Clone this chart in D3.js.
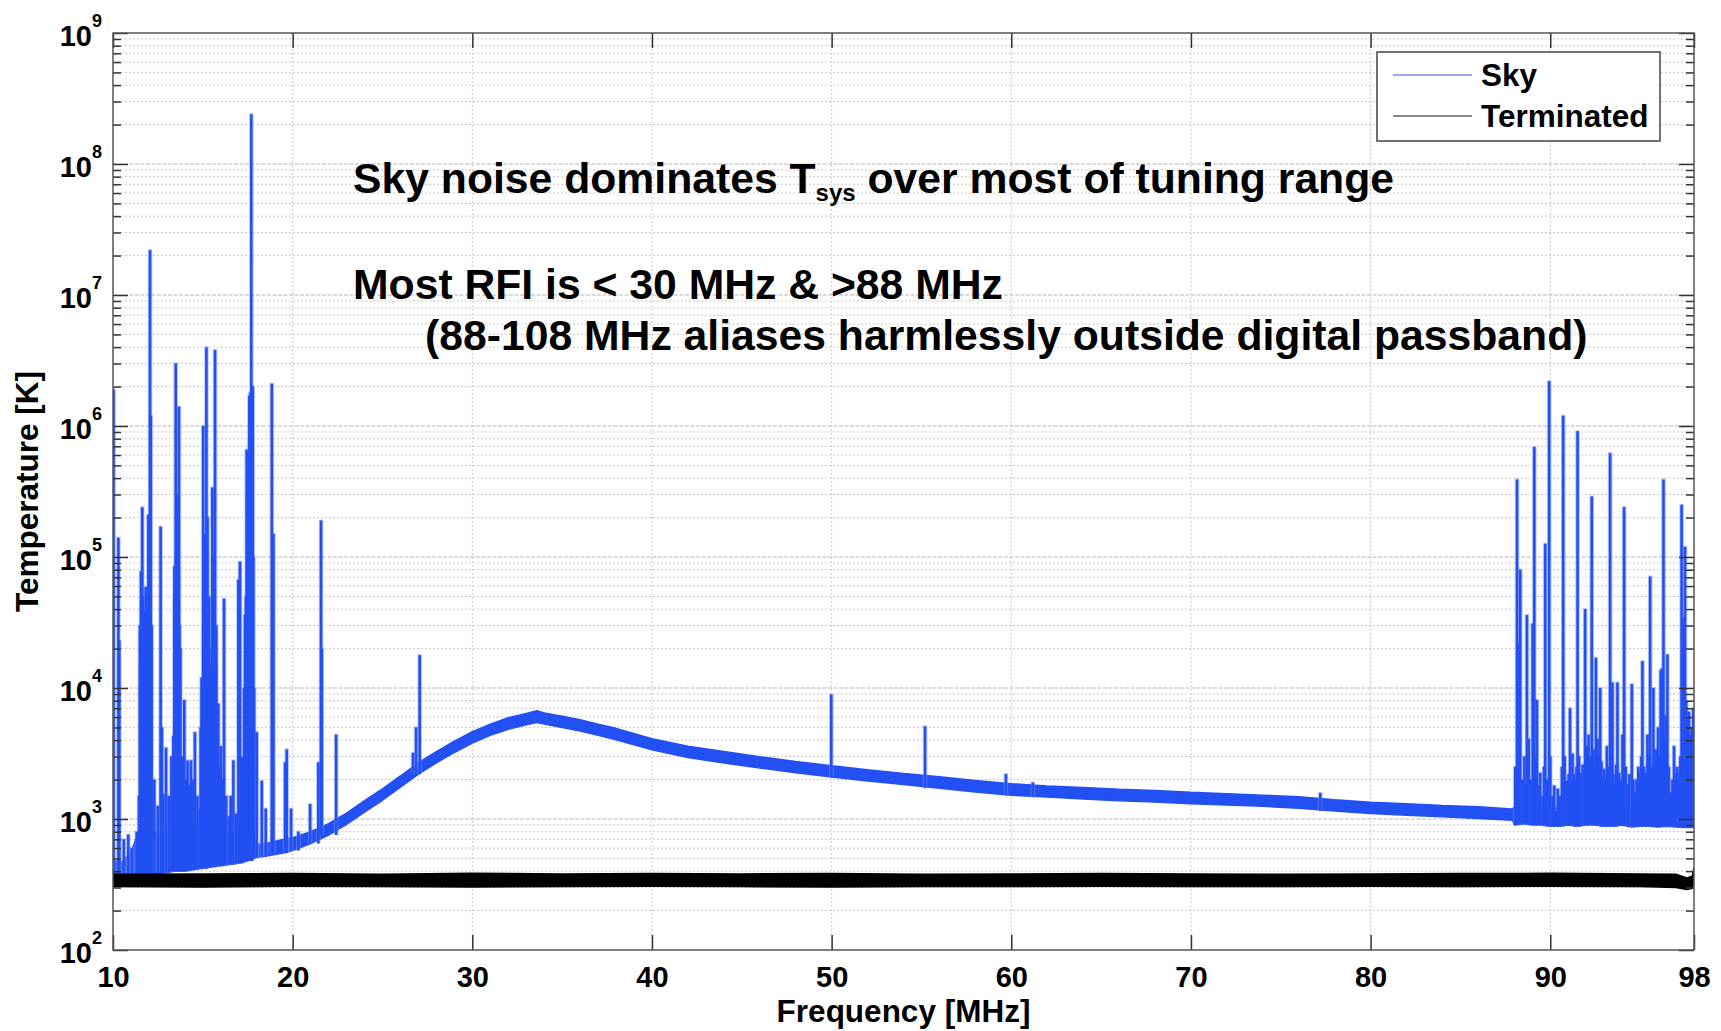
<!DOCTYPE html>
<html>
<head>
<meta charset="utf-8">
<script src="https://cdn.jsdelivr.net/npm/d3@7"></script>
<style>
  body { margin: 0; background: #fff; }
  text { font-family: "Liberation Sans", Arial, Helvetica, sans-serif; font-weight: bold; fill: #000; }
</style>
</head>
<body>
<div id="chart"></div>
<script>
// Sky vs terminated system temperature

// axis ticks
let freqTicks = [10, 20, 30, 40, 50, 60, 70, 80, 90, 98]
let tempDecades = [1e2, 1e3, 1e4, 1e5, 1e6, 1e7, 1e8, 1e9]

// sky noise floor, as a band (lower and upper edge of the noisy trace) [K]
let skyBandFreq = [10, 10.5, 11, 11.5, 12, 12.5, 13, 13.5, 14, 14.5, 15, 15.5, 16, 16.5, 17, 17.5,
  18, 18.5, 19, 19.5, 20, 21, 22, 23, 24, 25, 26, 27, 28, 29, 30, 31, 32, 33, 33.6, 34, 35, 36, 37, 38,
  40, 42, 44, 46, 48, 50, 52, 54, 56, 58, 60, 62, 64, 66, 68, 70, 72, 74, 76, 78, 80, 82, 84, 86, 87.9,
  88.0, 88.5, 89, 89.5, 90, 90.5, 91, 91.5, 92, 92.5, 93, 93.5, 94, 94.5, 95, 95.5, 96, 96.5, 97, 97.5, 98]
let skyBandLo = [320, 320, 330, 360, 380, 380, 390, 400, 400, 410, 420, 430, 440, 450, 460, 480,
  510, 520, 535, 550, 575, 650, 755, 910, 1130, 1390, 1750, 2200, 2680, 3220, 3800, 4350, 4850, 5250, 5450, 5300, 5000, 4700, 4350, 4030,
  3370, 2950, 2680, 2450, 2250, 2090, 1950, 1830, 1720, 1610, 1520, 1470, 1420, 1380, 1350, 1310, 1280, 1250, 1210, 1150, 1100, 1070, 1040, 1010, 980,
  900, 920, 900, 900, 880, 880, 900, 880, 900, 900, 880, 880, 900, 870, 880, 880, 870, 880, 870, 860, 860]
let skyBandHi = [480, 470, 560, 850, 950, 750, 800, 1000, 850, 760, 1000, 1100, 900, 760, 850, 1000,
  640, 650, 675, 700, 720, 800, 920, 1110, 1380, 1700, 2130, 2690, 3270, 3930, 4640, 5300, 5920, 6400, 6700, 6450, 6100, 5730, 5300, 4920,
  4100, 3600, 3270, 2990, 2750, 2550, 2380, 2230, 2100, 1970, 1860, 1790, 1740, 1690, 1650, 1600, 1560, 1520, 1480, 1400, 1340, 1310, 1270, 1240, 1190,
  1250, 1400, 1300, 1250, 1200, 1250, 1350, 1300, 1500, 1450, 1350, 1300, 1350, 1200, 1300, 1350, 1350, 1250, 1250, 1300, 1300]

// RFI spikes on the sky trace: [frequency MHz, peak K]
let skySpikes = [
  [10.03, 1.9e6], [10.30, 1.4e5], [10.35, 2.3e4], [10.6, 700], [10.85, 760], [11.05, 600], [11.32, 800],
  [11.45, 1500], [11.5, 3e4], [11.52, 1.5e4], [11.56, 7.8e4], [11.6, 4e4], [11.63, 2.4e5], [11.67, 5e4],
  [11.7, 3e4], [11.75, 4e4], [11.82, 5.9e4], [11.86, 3e4], [11.9, 2e4], [11.93, 5e4], [11.97, 2.1e5],
  [12.02, 6e4], [12.06, 2.2e7], [12.1, 1.2e6], [12.15, 3e4], [12.3, 2000], [12.49, 1260], [12.65, 1.7e5],
  [12.72, 5000], [12.80, 1550], [12.95, 3500], [13.1, 1500], [13.25, 3000], [13.36, 4300], [13.42, 8.5e4],
  [13.45, 5e4], [13.49, 3e6], [13.52, 1e5], [13.55, 3e5], [13.58, 6e4], [13.62, 1.2e5], [13.65, 8e4],
  [13.67, 1.4e6], [13.7, 3e4], [13.75, 2e4], [13.85, 3000], [13.97, 8100],
  [14.05, 2000], [14.15, 2800], [14.25, 1800], [14.34, 2800], [14.45, 2000], [14.56, 4600], [14.7, 1500],
  [14.84, 1200], [14.88, 5000], [14.93, 1.2e4], [14.97, 1e4], [15.02, 1e6], [15.05, 3e4], [15.08, 1.5e5],
  [15.1, 2e4], [15.13, 5e4], [15.16, 4e4], [15.2, 4e6], [15.23, 3e4], [15.26, 2e5], [15.3, 2e4],
  [15.35, 5e4], [15.38, 1.5e4], [15.42, 1e4], [15.46, 1e4], [15.5, 2e4], [15.53, 3.4e5], [15.57, 3e4],
  [15.6, 1e5], [15.64, 2e4], [15.68, 3.8e6], [15.72, 1.5e4], [15.75, 3e4], [15.86, 7600],
  [15.93, 2500], [16.01, 3600], [16.1, 2000], [16.18, 4.8e4], [16.3, 1500], [16.46, 1050], [16.55, 1500],
  [16.70, 2800], [16.85, 1100], [16.98, 6.7e4], [17.07, 9.2e4], [17.15, 3000], [17.22, 2900], [17.3, 1e4],
  [17.35, 3.6e4], [17.4, 5e4], [17.44, 6.6e5], [17.48, 3e5], [17.52, 1e5], [17.55, 5e5], [17.59, 1.7e6],
  [17.62, 8e5], [17.65, 1.8e6], [17.68, 1e6], [17.70, 2.4e8], [17.74, 8e5], [17.78, 2e6], [17.81, 1e5], [17.85, 1e4],
  [18.0, 4600], [18.28, 1950], [18.5, 1200], [18.84, 2.1e6], [18.93, 1.5e5], [19.58, 2700], [19.67, 3400],
  [19.91, 1200], [20.32, 800], [20.97, 1300], [21.43, 2700], [21.58, 1.9e5], [21.62, 2e4], [22.42, 4400],
  [26.7, 3200], [26.87, 5000], [27.07, 1.78e4], [49.98, 8900], [55.2, 5100], [59.7, 2200], [61.2, 1900], [77.2, 1580],
  [88.05, 2500], [88.15, 3.9e5], [88.22, 2.2e4], [88.28, 5000], [88.33, 8e4], [88.45, 2000], [88.56, 3000],
  [88.63, 1800], [88.70, 3.6e4], [88.80, 4100], [88.9, 2000], [89.02, 3.1e4], [89.11, 6.9e5], [89.18, 3000],
  [89.26, 8100], [89.35, 1800], [89.44, 2250], [89.57, 1500], [89.65, 2500], [89.72, 1.26e5], [89.8, 2000],
  [89.94, 2.2e6], [90.0, 3000], [90.13, 1500], [90.22, 1800], [90.31, 1150], [90.42, 1700], [90.54, 1500],
  [90.65, 2500], [90.72, 1.2e6], [90.8, 3000], [90.93, 1960], [91.02, 2200], [91.1, 7000], [91.18, 2000],
  [91.24, 3150], [91.32, 2200], [91.39, 1960], [91.46, 2500], [91.52, 9.1e5], [91.6, 3000], [91.70, 2250],
  [91.8, 2600], [91.94, 4e4], [92.04, 3600], [92.13, 4400], [92.22, 3000], [92.31, 2.9e5], [92.41, 3400],
  [92.48, 2500], [92.54, 1.7e4], [92.63, 4100], [92.7, 3000], [92.78, 1e4], [92.85, 2750], [92.92, 2000],
  [93.0, 2400], [93.08, 2000], [93.15, 3600], [93.24, 2500], [93.33, 6.2e5], [93.4, 3000], [93.46, 1.1e4],
  [93.52, 2200], [93.59, 1850], [93.67, 2600], [93.74, 1.1e4], [93.83, 2250], [93.92, 2000], [94.02, 4400],
  [94.11, 2.4e5], [94.2, 2500], [94.30, 1850], [94.4, 2200], [94.54, 1.07e4], [94.62, 2000], [94.70, 1600],
  [94.8, 2000], [94.9, 2500], [95.0, 2250], [95.07, 3000], [95.13, 1.6e4], [95.22, 2500], [95.31, 2250],
  [95.41, 4400], [95.48, 3000], [95.56, 7.1e4], [95.65, 2500], [95.74, 1e4], [95.8, 2800], [95.87, 3400],
  [96.0, 5000], [96.08, 3000], [96.15, 1.35e4], [96.2, 1.4e4], [96.30, 3.9e5], [96.37, 4000], [96.43, 6200],
  [96.52, 1.8e4], [96.6, 2500], [96.7, 1600], [96.8, 2000], [96.89, 3600], [96.98, 2250], [97.07, 2500],
  [97.17, 2250], [97.24, 3000], [97.31, 2.5e5], [97.38, 2e4], [97.44, 3.4e4], [97.5, 1.2e5], [97.57, 8000],
  [97.63, 5800], [97.72, 6600], [97.81, 4400], [97.88, 5000], [97.96, 7000]
]

// terminated input, a flat noisy band [K]
let termFreq = [10, 15, 20, 25, 30, 35, 40, 45, 50, 55, 60, 65, 70, 75, 80, 85, 90, 95, 97, 97.6, 97.9, 98]
let termLo = [305, 303, 307, 305, 303, 305, 307, 305, 303, 305, 305, 307, 305, 305, 307, 305, 307, 305, 300, 290, 295, 335]
let termHi = [378, 380, 383, 379, 385, 381, 383, 381, 383, 379, 381, 383, 381, 379, 381, 383, 385, 381, 378, 355, 365, 425]

let seriesNames = ['Sky', 'Terminated']

////////////////////////////////////////////////////////////////////////
// layout

let width = 1721
let height = 1031
let plotLeft = 113, plotRight = 1694, plotTop = 33, plotBottom = 950
let skyColor = '#2350f2'

let svg = d3.select('#chart')
  .append('svg')
  .attr('width', width)
  .attr('height', height)

let xScale = d3.scaleLinear().domain([10, 98]).range([plotLeft, plotRight])
let yScale = d3.scaleLog().domain([1e2, 1e9]).range([plotBottom, plotTop])

// minor decades 2..9 x 10^n
let minorTicks = []
tempDecades.slice(0, -1).forEach(d => {
  for (let k = 2; k <= 9; k++) minorTicks.push(d * k)
})

// grid
let grid = svg.append('g').attr('id', 'grid')
grid.selectAll('line.ymin')
  .data(minorTicks)
  .enter()
  .append('line')
  .attr('x1', plotLeft).attr('x2', plotRight)
  .attr('y1', d => yScale(d)).attr('y2', d => yScale(d))
  .attr('stroke', '#c9c9c9')
  .attr('stroke-dasharray', '2,2')
grid.selectAll('line.ymaj')
  .data(tempDecades.slice(1, -1))
  .enter()
  .append('line')
  .attr('x1', plotLeft).attr('x2', plotRight)
  .attr('y1', d => yScale(d)).attr('y2', d => yScale(d))
  .attr('stroke', '#b5b5b5')
  .attr('stroke-dasharray', '4,1.5')
grid.selectAll('line.x')
  .data(freqTicks.slice(1, -1))
  .enter()
  .append('line')
  .attr('x1', d => xScale(d)).attr('x2', d => xScale(d))
  .attr('y1', plotTop).attr('y2', plotBottom)
  .attr('stroke', '#c9c9c9')
  .attr('stroke-dasharray', '2,2')

// clip to plot area
svg.append('clipPath').attr('id', 'plotclip')
  .append('rect')
  .attr('x', plotLeft).attr('y', plotTop)
  .attr('width', plotRight - plotLeft).attr('height', plotBottom - plotTop)

let plot = svg.append('g').attr('clip-path', 'url(#plotclip)')

// sky band
let skyBand = skyBandFreq.map((f, i) => [f, skyBandLo[i], skyBandHi[i]])
let band = d3.area()
  .x(d => xScale(d[0]))
  .y0(d => yScale(d[1]))
  .y1(d => yScale(d[2]))

plot.append('path')
  .datum(skyBand)
  .attr('fill', skyColor)
  .attr('stroke', skyColor)
  .attr('stroke-width', 1.5)
  .attr('stroke-linejoin', 'bevel')
  .attr('d', band)

// spikes, drawn up from the nearest floor sample
let bisect = d3.bisector(d => d[0]).center
let spikeBase = d => yScale(skyBand[bisect(skyBand, d[0])][1])

// soft halo, then the line itself
plot.append('g')
  .selectAll('line')
  .data(skySpikes)
  .enter()
  .append('line')
  .attr('x1', d => xScale(d[0])).attr('x2', d => xScale(d[0]))
  .attr('y1', spikeBase)
  .attr('y2', d => yScale(d[1]) - 1)
  .attr('stroke', '#7d90f2')
  .attr('stroke-width', 4.5)
  .attr('stroke-opacity', 0.55)
plot.append('g')
  .selectAll('line')
  .data(skySpikes)
  .enter()
  .append('line')
  .attr('x1', d => xScale(d[0])).attr('x2', d => xScale(d[0]))
  .attr('y1', spikeBase)
  .attr('y2', d => yScale(d[1]))
  .attr('stroke', skyColor)
  .attr('stroke-width', 2.6)

// terminated band
let termBand = termFreq.map((f, i) => [f, termLo[i], termHi[i]])
plot.append('path')
  .datum(termBand)
  .attr('fill', '#000')
  .attr('stroke', '#000')
  .attr('stroke-width', 1.5)
  .attr('d', band)

////////////////////////////////////////////////////////////////////////
// axes, MATLAB style with inward ticks on all four sides

let axisColor = '#555'

function styleAxis (g) {
  g.select('.domain').remove()
  g.selectAll('.tick line').attr('stroke', '#333').attr('stroke-width', 1.5)
}

let yAxis = svg.append('g')
  .attr('transform', 'translate(' + plotLeft + ',0)')
  .call(d3.axisLeft(yScale).tickValues(tempDecades).tickSize(-15).tickPadding(11))
  .call(styleAxis)
yAxis.selectAll('.tick text')
  .attr('font-size', 29)
  .attr('dy', 12)
  .each(function (d) {
    let t = d3.select(this)
    t.text(null)
    t.append('tspan').text('10')
    t.append('tspan').attr('font-size', 18).attr('dy', -19).text(Math.round(Math.log10(d)))
  })

svg.append('g')
  .attr('transform', 'translate(' + plotLeft + ',0)')
  .call(d3.axisLeft(yScale).tickValues(minorTicks).tickSize(-8).tickFormat(''))
  .call(styleAxis)
svg.append('g')
  .attr('transform', 'translate(' + plotRight + ',0)')
  .call(d3.axisRight(yScale).tickValues(tempDecades).tickSize(-15).tickFormat(''))
  .call(styleAxis)
svg.append('g')
  .attr('transform', 'translate(' + plotRight + ',0)')
  .call(d3.axisRight(yScale).tickValues(minorTicks).tickSize(-8).tickFormat(''))
  .call(styleAxis)

let xAxis = svg.append('g')
  .attr('transform', 'translate(0,' + plotBottom + ')')
  .call(d3.axisBottom(xScale).tickValues(freqTicks).tickSize(-15).tickPadding(16).tickFormat(d3.format('d')))
  .call(styleAxis)
xAxis.selectAll('.tick text').attr('font-size', 29)
svg.append('g')
  .attr('transform', 'translate(0,' + plotTop + ')')
  .call(d3.axisTop(xScale).tickValues(freqTicks).tickSize(-15).tickFormat(''))
  .call(styleAxis)

svg.selectAll('.tick text').attr('fill', '#000')

// plot box
svg.append('rect')
  .attr('x', plotLeft).attr('y', plotTop)
  .attr('width', plotRight - plotLeft).attr('height', plotBottom - plotTop)
  .attr('fill', 'none')
  .attr('stroke', axisColor)
  .attr('stroke-width', 1.5)

// axis titles
svg.append('text')
  .attr('x', (plotLeft + plotRight) / 2)
  .attr('y', 1022)
  .attr('text-anchor', 'middle')
  .attr('font-size', 31.5)
  .text('Frequency [MHz]')

svg.append('text')
  .attr('transform', 'translate(38,' + (plotTop + plotBottom) / 2 + ') rotate(-90)')
  .attr('text-anchor', 'middle')
  .attr('font-size', 31.5)
  .text('Temperature [K]')

////////////////////////////////////////////////////////////////////////
// annotations

let noteSize = 42.7
let note1 = svg.append('text').attr('x', 353).attr('y', 193).attr('font-size', noteSize)
note1.append('tspan').text('Sky noise dominates T')
note1.append('tspan').attr('font-size', 24).attr('dy', 8).text('sys')
note1.append('tspan').attr('dy', -8).text(' over most of tuning range')

svg.append('text').attr('x', 353).attr('y', 299).attr('font-size', noteSize)
  .text('Most RFI is < 30 MHz & >88 MHz')
svg.append('text').attr('x', 425).attr('y', 350).attr('font-size', noteSize)
  .text('(88-108 MHz aliases harmlessly outside digital passband)')

////////////////////////////////////////////////////////////////////////
// legend

let legend = svg.append('g').attr('id', 'legend')
legend.append('rect')
  .attr('x', 1377).attr('y', 52)
  .attr('width', 283).attr('height', 89)
  .attr('fill', '#fff')
  .attr('stroke', '#444')
  .attr('stroke-width', 1.5)

let legendColors = ['#a0a6f0', '#8a8a8a']
legend.selectAll('line')
  .data(seriesNames)
  .enter()
  .append('line')
  .attr('x1', 1393).attr('x2', 1472)
  .attr('y1', (d, i) => 75 + i * 41).attr('y2', (d, i) => 75 + i * 41)
  .attr('stroke', (d, i) => legendColors[i])
  .attr('stroke-width', 2)
legend.selectAll('text')
  .data(seriesNames)
  .enter()
  .append('text')
  .attr('x', 1481)
  .attr('y', (d, i) => 86 + i * 41)
  .attr('font-size', 31.5)
  .text(d => d)
</script>
</body>
</html>
